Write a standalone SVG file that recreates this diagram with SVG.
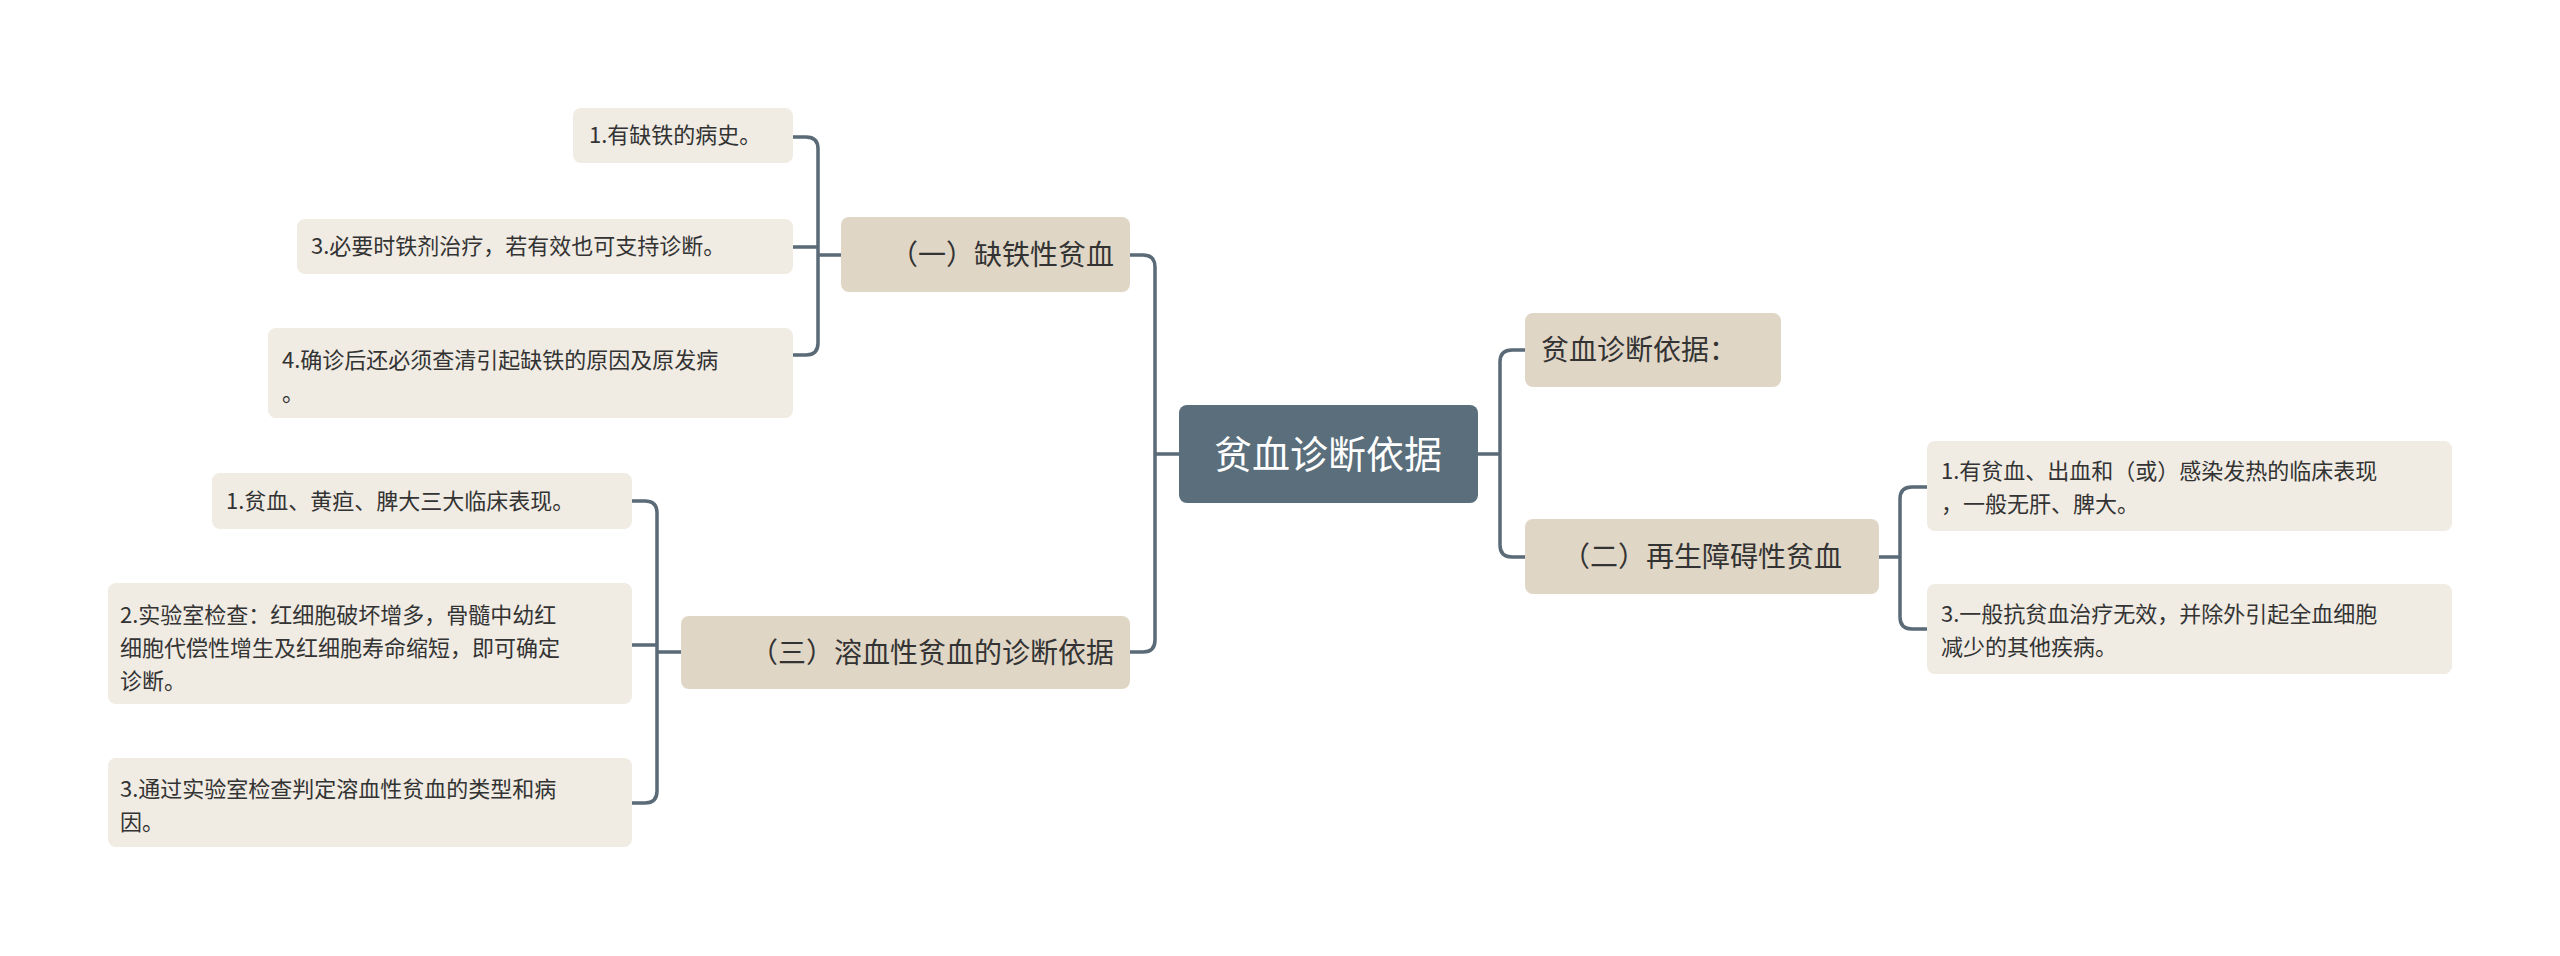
<svg xmlns="http://www.w3.org/2000/svg" width="2560" height="956" viewBox="0 0 2560 956">
<style>
text{font-family:"Noto Sans CJK SC","Noto Sans",sans-serif;fill:#333}
.root rect{fill:#5a6e7b}
.root text{fill:#fff;font-size:38px}
.l1 rect{fill:#e0d6c6}
.l1 text{font-size:28px}
.lf rect{fill:#f0ebe3}
.lf text{font-size:22px}
#conn path{fill:none;stroke:#5a6a76;stroke-width:3.5}
</style>
<rect width="2560" height="956" fill="#fff"/>
<g id="conn">
<path d="M1478 454H1500M1525 350H1512Q1500 350 1500 362V545Q1500 557 1512 557H1525"/>
<path d="M1879 557H1900M1927 487H1912Q1900 487 1900 499V617Q1900 629 1912 629H1927"/>
<path d="M1179 454H1155M1130 255H1143Q1155 255 1155 267V640Q1155 652 1143 652H1130"/>
<path d="M841 255H818M793 137H806Q818 137 818 149V343Q818 355 806 355H793M793 247H818"/>
<path d="M681 652H657M632 501H645Q657 501 657 513V791Q657 803 645 803H632M632 645H657"/>
</g>
<g id="root" class="root"><rect x="1179" y="405" width="299" height="98" rx="8"/><text x="1328" y="468" text-anchor="middle">贫血诊断依据</text></g>
<g id="n-basis" class="l1"><rect x="1525" y="313" width="256" height="74" rx="8"/><text x="1541" y="360">贫血诊断依据：</text></g>
<g id="n-2" class="l1"><rect x="1525" y="519" width="354" height="75" rx="8"/><text x="1702" y="567" text-anchor="middle">（二）再生障碍性贫血</text></g>
<g id="n-r1" class="lf"><rect x="1927" y="441" width="525" height="90" rx="8"/><text x="1941" y="479">1.有贫血、出血和（或）感染发热的临床表现</text><text x="1941" y="512">，一般无肝、脾大。</text></g>
<g id="n-r3" class="lf"><rect x="1927" y="584" width="525" height="90" rx="8"/><text x="1941" y="622">3.一般抗贫血治疗无效，并除外引起全血细胞</text><text x="1941" y="655">减少的其他疾病。</text></g>
<g id="n-1" class="l1"><rect x="841" y="217" width="289" height="75" rx="8"/><text x="1114" y="265" text-anchor="end">（一）缺铁性贫血</text></g>
<g id="n-3" class="l1"><rect x="681" y="616" width="449" height="73" rx="8"/><text x="1114" y="663" text-anchor="end">（三）溶血性贫血的诊断依据</text></g>
<g id="n-l1" class="lf"><rect x="573" y="108" width="220" height="55" rx="8"/><text x="589" y="143">1.有缺铁的病史。</text></g>
<g id="n-l3" class="lf"><rect x="297" y="219" width="496" height="55" rx="8"/><text x="311" y="254">3.必要时铁剂治疗，若有效也可支持诊断。</text></g>
<g id="n-l4" class="lf"><rect x="268" y="328" width="525" height="90" rx="8"/><text x="282" y="368">4.确诊后还必须查清引起缺铁的原因及原发病</text><text x="282" y="401">。</text></g>
<g id="n-h1" class="lf"><rect x="212" y="473" width="420" height="56" rx="8"/><text x="226" y="509">1.贫血、黄疸、脾大三大临床表现。</text></g>
<g id="n-h2" class="lf"><rect x="108" y="583" width="524" height="121" rx="8"/><text x="120" y="623">2.实验室检查：红细胞破坏增多，骨髓中幼红</text><text x="120" y="656">细胞代偿性增生及红细胞寿命缩短，即可确定</text><text x="120" y="689">诊断。</text></g>
<g id="n-h3" class="lf"><rect x="108" y="758" width="524" height="89" rx="8"/><text x="120" y="797">3.通过实验室检查判定溶血性贫血的类型和病</text><text x="120" y="830">因。</text></g>
</svg>
